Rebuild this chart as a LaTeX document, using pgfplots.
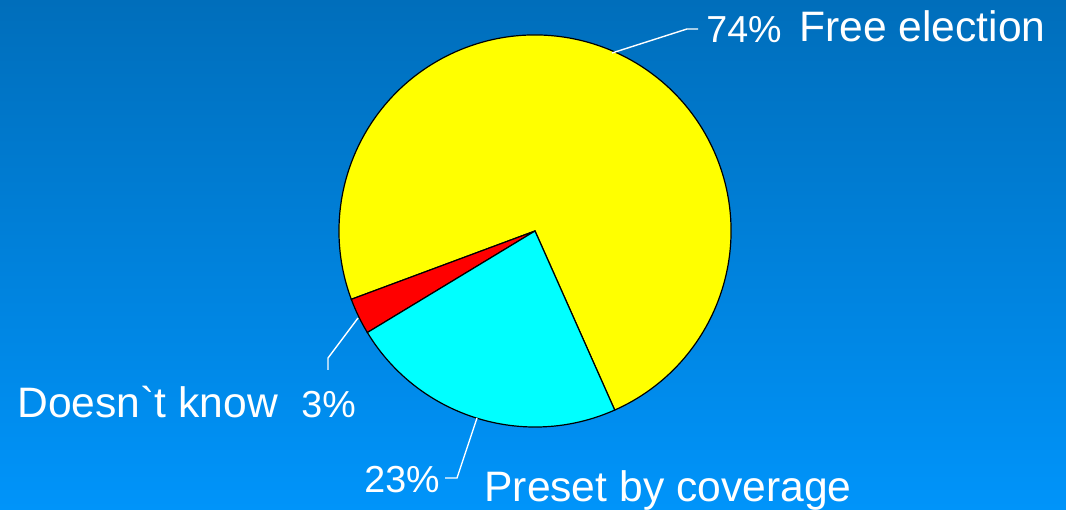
\documentclass[border=0pt]{standalone}
\usepackage{pgfplots}
\usepackage{pgfplotstable}
\pgfplotsset{compat=1.18}
\usepackage{fontspec}
\newfontfamily\lab{Liberation Sans}
\definecolor{bgtop}{RGB}{0,110,187}
\definecolor{bgbot}{RGB}{0,148,250}
\definecolor{pieY}{RGB}{255,255,0}
\definecolor{pieR}{RGB}{255,0,0}
\definecolor{pieC}{RGB}{0,255,255}

\pgfplotstableread{
label value
{Free election} 74
{Doesn`t know} 3
{Preset by coverage} 23
}\pietable

\begin{document}
\begin{tikzpicture}
\pgfplotstablegetelem{0}{value}\of\pietable \let\vA\pgfplotsretval
\pgfplotstablegetelem{1}{value}\of\pietable \let\vB\pgfplotsretval
\pgfplotstablegetelem{2}{value}\of\pietable \let\vC\pgfplotsretval
\pgfmathsetmacro{\aA}{-66}
\pgfmathsetmacro{\aB}{\aA+3.6*\vA}
\pgfmathsetmacro{\aC}{\aB+3.6*\vB}
\pgfmathsetmacro{\aD}{\aC+3.6*\vC}
\begin{axis}[
  x=0.5bp, y=0.5bp,
  xmin=0, xmax=1066, ymin=0, ymax=510,
  hide axis, clip=false,
  scale only axis,
]
\shade[top color=bgtop, bottom color=bgbot] (axis cs:0,0) rectangle (axis cs:1066,510);
\filldraw[fill=pieY, draw=black, line width=0.6bp] (axis cs:535,279) -- ++(\aA:98bp) arc[start angle=\aA, end angle=\aB, radius=98bp] -- cycle;
\filldraw[fill=pieR, draw=black, line width=0.6bp] (axis cs:535,279) -- ++(\aB:98bp) arc[start angle=\aB, end angle=\aC, radius=98bp] -- cycle;
\filldraw[fill=pieC, draw=black, line width=0.6bp] (axis cs:535,279) -- ++(\aC:98bp) arc[start angle=\aC, end angle=\aD, radius=98bp] -- cycle;
% leader lines
\draw[white, line width=0.7bp] (axis cs:612,457) -- (axis cs:687,481) -- (axis cs:698,481);
\draw[white, line width=0.7bp] (axis cs:358,192) -- (axis cs:328,152) -- (axis cs:328,140);
\draw[white, line width=0.7bp] (axis cs:477,92) -- (axis cs:457,32) -- (axis cs:445,32);
% labels
\node[anchor=base west, inner sep=0, text=white, font=\lab\fontsize{18.8bp}{22bp}\selectfont] at (axis cs:706,467) {\vA\%};
\node[anchor=base west, inner sep=0, text=white, font=\lab\fontsize{21.3bp}{25bp}\selectfont] at (axis cs:799,468) {Free election};
\node[anchor=base west, inner sep=0, text=white, font=\lab\fontsize{21.3bp}{25bp}\selectfont] at (axis cs:17,92) {Doesn`t know};
\node[anchor=base west, inner sep=0, text=white, font=\lab\fontsize{18.8bp}{22bp}\selectfont] at (axis cs:301,92) {\vB\%};
\node[anchor=base west, inner sep=0, text=white, font=\lab\fontsize{18.8bp}{22bp}\selectfont] at (axis cs:364,17) {\vC\%};
\node[anchor=base west, inner sep=0, text=white, font=\lab\fontsize{21.3bp}{25bp}\selectfont] at (axis cs:484,8) {Preset by coverage};
\end{axis}
\end{tikzpicture}
\end{document}
